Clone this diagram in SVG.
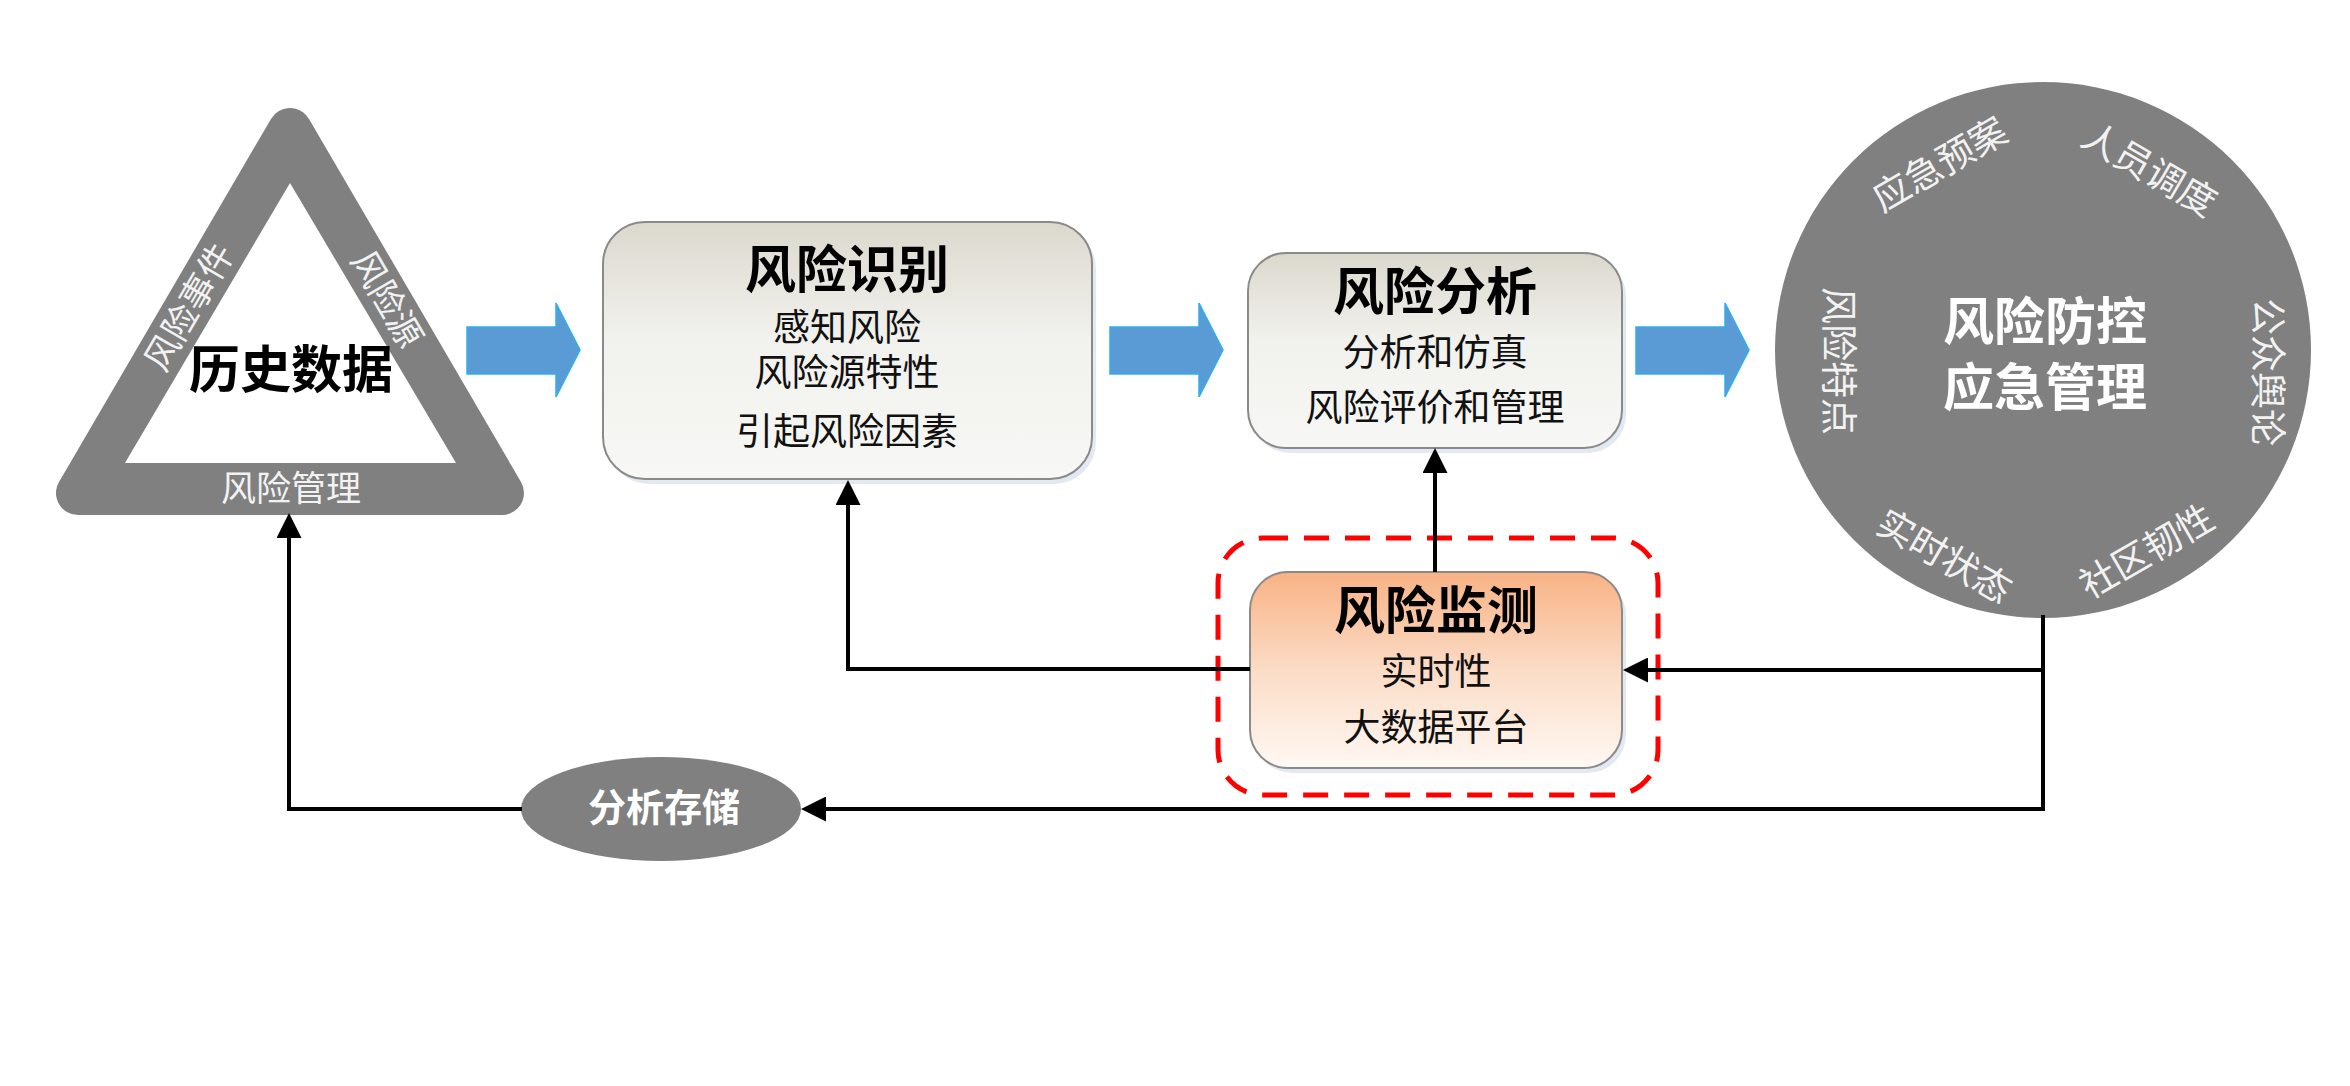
<svg xmlns="http://www.w3.org/2000/svg" width="2350" height="1086" viewBox="0 0 2350 1086">
<style>
  text { font-family: "Liberation Sans", "Noto Sans CJK SC", sans-serif; text-anchor: middle; dominant-baseline: central; }
  .title { font-size: 51px; font-weight: bold; fill: #000; }
  .sub { font-size: 37px; fill: #111; }
  .lbl { font-size: 35px; fill: #f2f2f2; }
  .clbl { font-size: 37px; fill: #f2f2f2; }
  .wt { font-size: 51px; font-weight: bold; fill: #fff; }
  .box { stroke: #8a8a8a; stroke-width: 2; }
  .shadow { fill: #e3e9f3; }
  .conn { fill: none; stroke: #000; stroke-width: 4; }
  .blue { fill: #5b9bd5; stroke: #2fb0ea; stroke-width: 1.5; }
</style>
<defs>
  <linearGradient id="gGray" x1="0" y1="0" x2="0" y2="1">
    <stop offset="0" stop-color="#dbd8cd"/>
    <stop offset="0.45" stop-color="#f1f1ed"/>
    <stop offset="1" stop-color="#f7f7f5"/>
  </linearGradient>
  <linearGradient id="gOrange" x1="0" y1="0" x2="0" y2="1">
    <stop offset="0" stop-color="#f8b284"/>
    <stop offset="0.5" stop-color="#fbdcc6"/>
    <stop offset="1" stop-color="#fff8f3"/>
  </linearGradient>
  <marker id="arr" viewBox="0 0 10 10" refX="0" refY="5" markerWidth="25" markerHeight="25" markerUnits="userSpaceOnUse" orient="auto">
    <path d="M0,0 L10,5 L0,10 z" fill="#000"/>
  </marker>
</defs>
<rect width="2350" height="1086" fill="#fff"/>

<!-- History data triangle -->
<g id="node-history">
  <polygon points="290,130 78,493 502,493" fill="#808080" stroke="#808080" stroke-width="44" stroke-linejoin="round"/>
  <polygon points="290,183 125,463 456,463" fill="#fff"/>
  <text class="title" x="291" y="370">历史数据</text>
  <text class="lbl" transform="translate(189,307) rotate(-59.7)">风险事件</text>
  <text class="lbl" transform="translate(387,299) rotate(59.7)">风险源</text>
  <text class="lbl" x="291" y="488">风险管理</text>
</g>

<!-- Blue arrows -->
<g id="flow-arrows">
  <path class="blue" d="M467,327 H556 V303 L580,350 L556,397 V374 H467 z"/>
  <path class="blue" d="M1110,327 H1199 V303 L1223,350 L1199,397 V374 H1110 z"/>
  <path class="blue" d="M1636,327 H1725 V303 L1749,350 L1725,397 V374 H1636 z"/>
</g>

<!-- Risk identification -->
<g id="node-identify">
  <rect class="shadow" x="607" y="227" width="489" height="257" rx="42"/>
  <rect class="box" x="603" y="222" width="489" height="257" rx="42" fill="url(#gGray)"/>
  <text class="title" x="847" y="270">风险识别</text>
  <text class="sub" x="847" y="328">感知风险</text>
  <text class="sub" x="847" y="373">风险源特性</text>
  <text class="sub" x="847" y="432">引起风险因素</text>
</g>

<!-- Risk analysis -->
<g id="node-analysis">
  <rect class="shadow" x="1252" y="258" width="374" height="195" rx="38"/>
  <rect class="box" x="1248" y="253" width="374" height="195" rx="38" fill="url(#gGray)"/>
  <text class="title" x="1435" y="292">风险分析</text>
  <text class="sub" x="1435" y="353">分析和仿真</text>
  <text class="sub" x="1435" y="408">风险评价和管理</text>
</g>

<!-- Risk monitoring -->
<g id="node-monitor">
  <rect x="1218" y="538" width="440" height="257" rx="45" fill="none" stroke="#ff0000" stroke-width="5" stroke-dasharray="25 16"/>
  <rect class="shadow" x="1254" y="577" width="372" height="196" rx="38"/>
  <rect class="box" x="1250" y="572" width="372" height="196" rx="38" fill="url(#gOrange)"/>
  <text class="title" x="1436" y="611">风险监测</text>
  <text class="sub" x="1436" y="672">实时性</text>
  <text class="sub" x="1436" y="728">大数据平台</text>
</g>

<!-- Emergency management circle -->
<g id="node-emergency">
  <circle cx="2043" cy="350" r="268" fill="#808080"/>
  <text class="wt" x="2045" y="322">风险防控</text>
  <text class="wt" x="2045" y="388">应急管理</text>
  <text class="clbl" transform="translate(1940,165) rotate(-30)">应急预案</text>
  <text class="clbl" transform="translate(2149,170) rotate(30)">人员调度</text>
  <text class="clbl" transform="translate(2266,372) rotate(90)">公众舆论</text>
  <text class="clbl" transform="translate(2147,552) rotate(-30)">社区韧性</text>
  <text class="clbl" transform="translate(1944,557) rotate(30)">实时状态</text>
  <text class="clbl" transform="translate(1837,361) rotate(90)">风险特点</text>
</g>

<!-- Analysis storage ellipse -->
<g id="node-storage">
  <ellipse cx="661" cy="809" rx="140" ry="52" fill="#808080"/>
  <text x="664" y="808" style="font-size:38px;font-weight:bold;fill:#fff">分析存储</text>
</g>

<!-- Connectors -->
<g id="connectors">
  <path class="conn" d="M2043,615 V809 H826" marker-end="url(#arr)"/>
  <path class="conn" d="M2043,670 H1648" marker-end="url(#arr)"/>
  <path class="conn" d="M1250,669 H848 V505" marker-end="url(#arr)"/>
  <path class="conn" d="M1435,572 V473" marker-end="url(#arr)"/>
  <path class="conn" d="M522,809 H289 V538" marker-end="url(#arr)"/>
</g>
</svg>
